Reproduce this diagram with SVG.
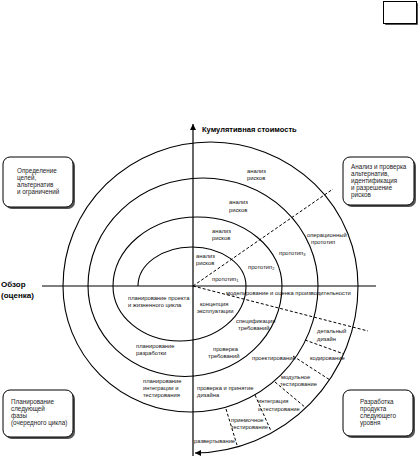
<svg xmlns="http://www.w3.org/2000/svg" width="418" height="456" viewBox="0 0 418 456">
<style>
.bg{fill:#fff}
.ln{fill:none;stroke:#000;stroke-width:1.1}
.ax{fill:none;stroke:#000;stroke-width:1.2}
.dash{fill:none;stroke:#000;stroke-width:1;stroke-dasharray:3 2}
.box{fill:#fff;stroke:#000;stroke-width:1}
.sh{fill:#555}
.t{font-family:"Liberation Sans",Arial,sans-serif;font-size:5.8px;fill:#111}
.bt{font-family:"Liberation Sans",Arial,sans-serif;font-size:6.3px;fill:#222}
.b{font-family:"Liberation Sans",Arial,sans-serif;font-weight:bold;fill:#000}
.sub{font-size:4px}
</style>
<defs>
<marker id="ah" markerWidth="8" markerHeight="8" refX="6" refY="3" orient="auto" markerUnits="userSpaceOnUse">
<path d="M0,0 L6,3 L0,6 Z" fill="#000"/>
</marker>
</defs>
<rect class="bg" x="0" y="0" width="418" height="456"/>

<g id="corner-box">
<rect class="sh" x="385" y="3" width="33" height="22" rx="1"/>
<rect class="box" x="383.5" y="1.5" width="33" height="22"/>
</g>

<g id="connectors">
<line class="ax" x1="42" y1="286" x2="376" y2="286"/>
<line class="ax" x1="193" y1="456" x2="193" y2="124" marker-end="url(#ah)"/>
<path class="ln" d="M138,286 A54,39 0 0 1 246,286 A66.5,55 0 0 1 113,286 A84.5,69 0 0 1 282,286 A97,90.5 0 0 1 88,286 A115,108 0 0 1 318,286 A127.5,126 0 0 1 63,286 A147.5,144 0 0 1 358,286 A165,167 0 0 1 195,453" marker-end="url(#ah)"/>
<line class="dash" x1="193" y1="286" x2="333" y2="189"/>
<line class="dash" x1="193" y1="286" x2="368" y2="331"/>
<line class="dash" x1="305" y1="340" x2="344" y2="354"/>
<line class="dash" x1="293" y1="356" x2="330" y2="380"/>
<line class="dash" x1="275" y1="382" x2="306" y2="408"/>
<line class="dash" x1="255" y1="395" x2="271" y2="431"/>
<line class="dash" x1="226" y1="409" x2="237" y2="445"/>
</g>

<g id="axis-labels">
<text class="b" x="202" y="132" font-size="7.5">Кумулятивная стоимость</text>
<text class="b" x="1" y="287" font-size="8">Обзор</text>
<text class="b" x="1" y="298" font-size="8">(оценка)</text>
</g>

<g id="box-goals">
<rect class="sh" x="5" y="159" width="70" height="50" rx="7"/>
<rect class="box" x="3" y="157" width="70" height="50" rx="7"/>
<text class="bt"><tspan x="17" y="173">Определение</tspan><tspan x="17" y="180">целей,</tspan><tspan x="17" y="187">альтернатив</tspan><tspan x="17" y="194">и ограничений</tspan></text>
</g>

<g id="box-risk">
<rect class="sh" x="345" y="159" width="71" height="48" rx="7"/>
<rect class="box" x="343" y="157" width="71" height="48" rx="7"/>
<text class="bt"><tspan x="351" y="169">Анализ и проверка</tspan><tspan x="351" y="176">альтернатив,</tspan><tspan x="351" y="183">идентификация</tspan><tspan x="351" y="190">и разрешение</tspan><tspan x="351" y="197">рисков</tspan></text>
</g>

<g id="box-plan">
<rect class="sh" x="5" y="392" width="70" height="47" rx="7"/>
<rect class="box" x="3" y="390" width="70" height="47" rx="7"/>
<text class="bt"><tspan x="11" y="404">Планирование</tspan><tspan x="11" y="411">следующей</tspan><tspan x="11" y="418">фазы</tspan><tspan x="11" y="425">(очередного цикла)</tspan></text>
</g>

<g id="box-dev">
<rect class="sh" x="345" y="392" width="70" height="46" rx="7"/>
<rect class="box" x="343" y="390" width="70" height="46" rx="7"/>
<text class="bt"><tspan x="360" y="404">Разработка</tspan><tspan x="360" y="411">продукта</tspan><tspan x="360" y="418">следующего</tspan><tspan x="360" y="425">уровня</tspan></text>
</g>

<g id="spiral-labels">
<text class="t"><tspan x="247" y="173">анализ</tspan><tspan x="247" y="180">рисков</tspan></text>
<text class="t"><tspan x="229" y="204">анализ</tspan><tspan x="229" y="211.5">рисков</tspan></text>
<text class="t"><tspan x="212" y="233">анализ</tspan><tspan x="212" y="240">рисков</tspan></text>
<text class="t"><tspan x="196" y="258">анализ</tspan><tspan x="196" y="265">рисков</tspan></text>
<text class="t" x="212" y="281">прототип<tspan class="sub" dy="1">1</tspan></text>
<text class="t" x="248" y="269">прототип<tspan class="sub" dy="1">2</tspan></text>
<text class="t" x="279" y="255">прототип<tspan class="sub" dy="1">3</tspan></text>
<text class="t"><tspan x="307" y="237">операционный</tspan><tspan x="311" y="244">прототип</tspan></text>
<text class="t" x="226" y="295">моделирование и оценка производительности</text>
<text class="t"><tspan x="128" y="300">планирование проекта</tspan><tspan x="128" y="307">и жизненного цикла</tspan></text>
<text class="t"><tspan x="200" y="306">концепция</tspan><tspan x="197" y="313">эксплуатации</tspan></text>
<text class="t"><tspan x="236" y="323">спецификация</tspan><tspan x="238" y="330">требований</tspan></text>
<text class="t"><tspan x="213" y="351">проверка</tspan><tspan x="208" y="358">требований</tspan></text>
<text class="t" x="252" y="360">проектирование</text>
<text class="t" x="310" y="360">кодирование</text>
<text class="t"><tspan x="317" y="333">детальный</tspan><tspan x="317" y="341">дизайн</tspan></text>
<text class="t"><tspan x="281" y="379">модульное</tspan><tspan x="280" y="386">тестирование</tspan></text>
<text class="t"><tspan x="258" y="403">интеграция</tspan><tspan x="258" y="411">и тестирование</tspan></text>
<text class="t"><tspan x="231" y="422">приемочное</tspan><tspan x="231" y="429">тестирование</tspan></text>
<text class="t" x="194" y="443">развертывание</text>
<text class="t"><tspan x="197" y="390">проверка и принятие</tspan><tspan x="197" y="397">дизайна</tspan></text>
<text class="t"><tspan x="136" y="348">планирование</tspan><tspan x="136" y="355">разработки</tspan></text>
<text class="t"><tspan x="143" y="383">планирование</tspan><tspan x="143" y="390">интеграции и</tspan><tspan x="143" y="397">тестирования</tspan></text>
</g>
</svg>
